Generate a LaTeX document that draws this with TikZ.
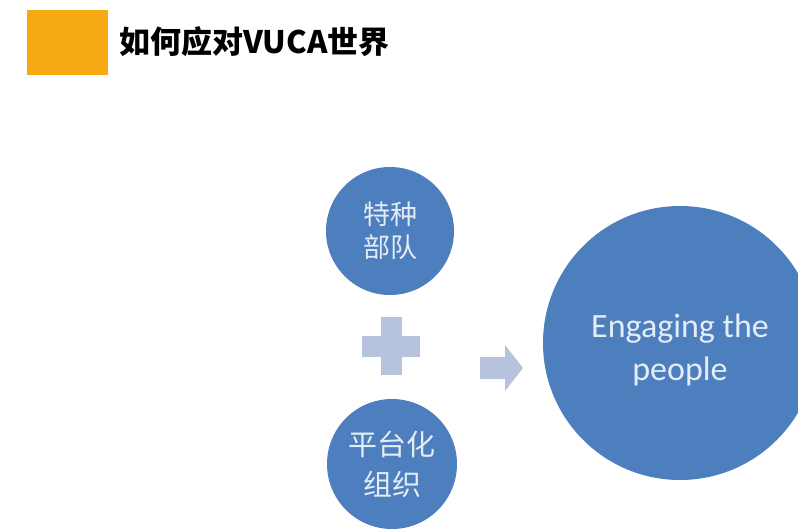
\documentclass[tikz,border=0pt]{standalone}
\usepackage{fontspec}
\newfontfamily\cjkfont{Noto Sans CJK SC}
\newfontfamily\latinfont{Carlito}
\definecolor{accent}{HTML}{F5A912}
\definecolor{circblue}{HTML}{4D7EBD}
\definecolor{lightsym}{HTML}{B7C3DC}
\definecolor{softtext}{HTML}{E4ECF6}
\begin{document}
\begin{tikzpicture}[x=1pt,y=-1pt,
  bubble/.style={circle,fill=circblue,draw=none,inner sep=0pt,text=softtext,align=center},
  sym/.style={fill=lightsym,draw=none}]
\useasboundingbox (0,0) rectangle (798,531);
\fill[white] (0,0) rectangle (798,531);
% header
\node[fill=accent,minimum width=81pt,minimum height=65pt,inner sep=0pt] (mark) at (67.5,42.5) {};
\node[anchor=west,inner sep=0pt,font=\cjkfont\bfseries\fontsize{31}{34}\selectfont] (title) at (119,42) {如何应对VUCA世界};
% circles
\node[bubble,minimum size=128pt,font=\cjkfont\fontsize{27}{33}\selectfont] (c1) at (390,231) {特种\\部队};
\node[bubble,minimum size=130pt,font=\cjkfont\fontsize{29}{40}\selectfont] (c2) at (392,464) {平台化\\组织};
\begin{scope}
\clip (0,0) rectangle (798,531);
\node[bubble,minimum size=274pt] (big) at (680,343) {};
\end{scope}
\node[text=softtext,align=center,inner sep=0pt,font=\latinfont\fontsize{34}{43}\selectfont] (bigtext) at ([yshift=-7pt]big.center) {Engaging the\\people};
% plus
\coordinate (plus) at (391,346);
\fill[sym] ([xshift=-29pt,yshift=-10.5pt]plus) rectangle ([xshift=29pt,yshift=10.5pt]plus);
\fill[sym] ([xshift=-10.5pt,yshift=-29pt]plus) rectangle ([xshift=10.5pt,yshift=29pt]plus);
% arrow
\coordinate (arr) at (480,346);
\fill[sym] ([yshift=-11pt]arr) -- ++(25,0) -- ++(0,-12) -- ++(18,23) -- ++(-18,23) -- ++(0,-12) -- ++(-25,0) -- cycle;
\end{tikzpicture}
\end{document}
